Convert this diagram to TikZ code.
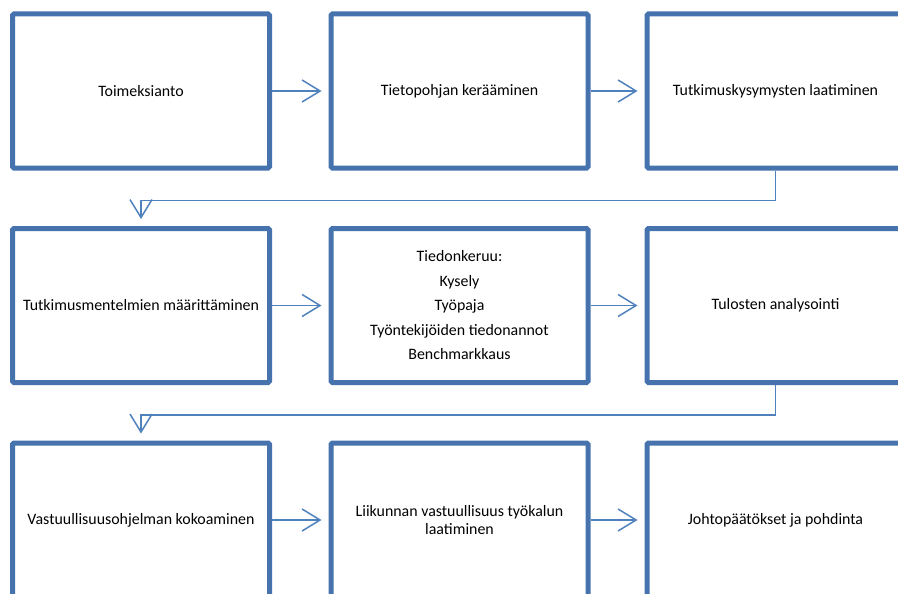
\documentclass[tikz,border=0pt]{standalone}
\usepackage{fontspec}
\setmainfont{Carlito}
\usepackage{xcolor}
\usepackage{tikz}
\usetikzlibrary{arrows.meta}
\definecolor{frame}{HTML}{4672AE}
\definecolor{flow}{HTML}{4F81BD}
\tikzset{
  stage/.style={draw=frame, line width=5pt, rounded corners=1.5pt, fill=white,
    minimum width=257pt, minimum height=154pt, inner sep=0pt, align=center,
    font=\fontsize{15.9}{18}\selectfont},
  link/.style={draw=flow, line width=1.5pt, shorten >=7pt,
    -{Straight Barb[length=18pt,width=22pt,line width=1.5pt]}},
}

\begin{document}
\begin{tikzpicture}[x=1pt,y=1pt]
  \def\ca{141}
  \def\cb{459.5}
  \def\cc{775.5}
  \def\ra{-91}
  \def\rb{-305.5}
  \def\rc{-520}
  \useasboundingbox (0,0) rectangle (898,-594);
  \clip (0,0) rectangle (898,-594);

  \node[stage] (s1) at (\ca,\ra) {Toimeksianto};
  \node[stage] (s2) at (\cb,\ra) {Tietopohjan kerääminen};
  \node[stage] (s3) at (\cc,\ra) {Tutkimuskysymysten laatiminen};

  \node[stage] (s4) at (\ca,\rb) {Tutkimusmentelmien määrittäminen};
  \node[stage] (s5) at (\cb,\rb) {Tiedonkeruu:\\[6.5pt] Kysely\\[6.5pt] Työpaja\\[6.5pt]
    Työntekijöiden tiedonannot\\[6.5pt] Benchmarkkaus};
  \node[stage] (s6) at (\cc,\rb) {Tulosten analysointi};

  \node[stage] (s7) at (\ca,\rc) {Vastuullisuusohjelman kokoaminen};
  \node[stage] (s8) at (\cb,\rc) {Liikunnan vastuullisuus työkalun\\laatiminen};
  \node[stage] (s9) at (\cc,\rc) {Johtopäätökset ja pohdinta};

  \draw[link] (s1) -- (s2);
  \draw[link] (s2) -- (s3);
  \draw[link] (s3.south) -- ++(0,-30) -| (s4.north);
  \draw[link] (s4) -- (s5);
  \draw[link] (s5) -- (s6);
  \draw[link] (s6.south) -- ++(0,-30) -| (s7.north);
  \draw[link] (s7) -- (s8);
  \draw[link] (s8) -- (s9);
\end{tikzpicture}
\end{document}
